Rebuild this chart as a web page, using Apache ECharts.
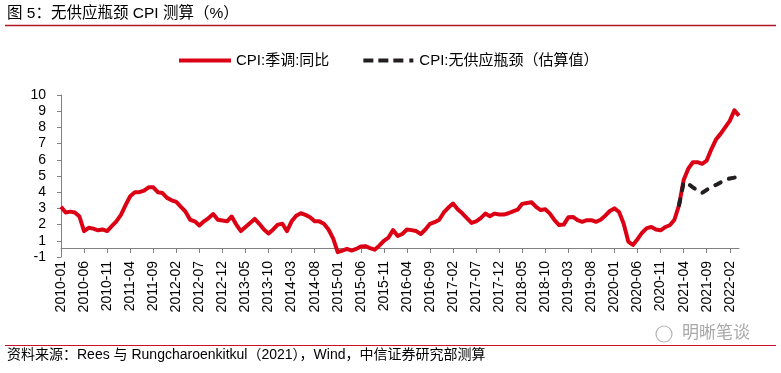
<!DOCTYPE html>
<html>
<head>
<meta charset="utf-8">
<script src="https://cdn.jsdelivr.net/npm/echarts@6/dist/echarts.min.js"></script>
<style>
html,body{margin:0;padding:0;background:#fff;}
#chart{width:781px;height:373px;}
</style>
</head>
<body>
<div id="chart"></div>
<script>
// ---- data ----
const startYear = 2010, startMonth = 1, monthCount = 148; // 2010-01 .. 2022-04
const months = [];
for (let k = 0; k < monthCount; k++) {
  const y = startYear + Math.floor((startMonth - 1 + k) / 12);
  const m = (startMonth - 1 + k) % 12 + 1;
  months.push(y + '-' + (m < 10 ? '0' + m : m));
}

const seriesNames = ['CPI:季调:同比', 'CPI:无供应瓶颈（估算值）'];

// CPI seasonally adjusted y/y
const cpiSA = [
  3.1, 2.75, 2.8, 2.75, 2.5, 1.6, 1.8, 1.75, 1.65, 1.7, 1.6, 1.9,        // 2010
  2.2, 2.6, 3.2, 3.75, 4.0, 4.0, 4.1, 4.3, 4.3, 4.0, 3.95, 3.65,         // 2011
  3.5, 3.4, 3.1, 2.8, 2.3, 2.2, 1.95, 2.2, 2.4, 2.65, 2.3, 2.25,         // 2012
  2.2, 2.5, 2.0, 1.6, 1.85, 2.1, 2.35, 2.05, 1.7, 1.45, 1.7, 2.0,        // 2013
  2.05, 1.6, 2.2, 2.55, 2.7, 2.6, 2.45, 2.2, 2.2, 2.05, 1.7, 1.15,       // 2014
  0.3, 0.4, 0.5, 0.4, 0.5, 0.65, 0.67, 0.55, 0.45, 0.7, 1.0, 1.2,        // 2015
  1.66, 1.3, 1.42, 1.7, 1.66, 1.6, 1.42, 1.7, 2.05, 2.15, 2.3, 2.75,     // 2016
  3.05, 3.3, 2.95, 2.7, 2.4, 2.1, 2.2, 2.4, 2.68, 2.52, 2.68, 2.62,      // 2017
  2.62, 2.7, 2.82, 2.92, 3.28, 3.33, 3.38, 3.1, 2.9, 2.95, 2.68, 2.27,   // 2018
  1.97, 2.0, 2.45, 2.47, 2.27, 2.17, 2.27, 2.27, 2.17, 2.3, 2.55, 2.84,  // 2019
  3.0, 2.78, 2.05, 0.95, 0.74, 1.1, 1.5, 1.78, 1.85, 1.7, 1.65, 1.85,    // 2020
  1.96, 2.3, 3.2, 4.75, 5.45, 5.85, 5.85, 5.75, 5.95, 6.65, 7.25, 7.6,   // 2021
  8.0, 8.4, 9.05, 8.72                                                   // 2022
];

// CPI without supply bottlenecks (estimate), from 2021-03
const noBottleneckStart = '2021-03';
const cpiNoBottleneck = [3.2, 4.6, 4.5, 4.3, 4.1, 3.95, 4.15, 4.35, 4.45, 4.6, 4.75, 4.85, 4.9, 4.95];

// y tick labels as printed on the chart (bottom tick reads -1)
const yTickLabels = ['-1', '1', '2', '3', '4', '5', '6', '7', '8', '9', '10'];

// ---- build ----
const startIdx = months.indexOf(noBottleneckStart);
const dashedData = months.map((m, k) => (k >= startIdx && k - startIdx < cpiNoBottleneck.length) ? cpiNoBottleneck[k - startIdx] : null);

const FONT = '"Liberation Sans", Arial, "Noto Sans CJK SC", sans-serif';
const RED = '#DC0014', BLACK = '#231F20';
const chart = echarts.init(document.getElementById('chart'), null, {renderer: 'canvas'});
chart.setOption({
  backgroundColor: '#fff',
  animation: false,
  textStyle: {fontFamily: FONT},
  grid: {left: 61, right: 42, top: 95, bottom: 116, containLabel: false},
  legend: {
    left: 174, top: 48,
    itemWidth: 52, itemHeight: 4, itemGap: 34,
    textStyle: {fontFamily: FONT, fontSize: 15, color: '#000'},
    data: [
      {name: seriesNames[0], icon: 'path://M0,0H52V4H0Z', itemStyle: {color: RED}},
      {name: seriesNames[1], icon: 'path://M0,0H10V4H0Z M15,0H25V4H15Z M30,0H40V4H30Z M46,0H50V4H46Z', itemStyle: {color: BLACK}}
    ]
  },
  xAxis: {
    type: 'category',
    data: months,
    boundaryGap: false,
    offset: -9,
    axisLine: {onZero: false, lineStyle: {color: '#808080', width: 1}},
    axisTick: {interval: 4, length: 5, lineStyle: {color: '#808080'}},
    axisLabel: {interval: 4, rotate: 90, margin: 13, fontSize: 14, color: '#000', fontFamily: FONT},
    splitLine: {show: false}
  },
  yAxis: {
    type: 'value',
    min: 0, max: 10, interval: 1,
    axisLine: {show: true, lineStyle: {color: '#808080', width: 1}},
    axisTick: {show: true, length: 4, lineStyle: {color: '#808080'}},
    axisLabel: {fontSize: 14, color: '#000', margin: 15, fontFamily: FONT,
      formatter: v => yTickLabels[Math.round(v)]},
    splitLine: {show: false}
  },
  series: [
    {
      name: seriesNames[0], type: 'line', data: cpiSA, symbol: 'none',
      lineStyle: {color: RED, width: 4, join: 'round'},
      itemStyle: {color: RED}, z: 2
    },
    {
      name: seriesNames[1], type: 'line', data: dashedData, symbol: 'none',
      lineStyle: {color: BLACK, width: 4, type: [6, 9], cap: 'round'},
      itemStyle: {color: BLACK}, z: 3
    }
  ],
  graphic: [
    {type: 'text', left: 7, top: 6, style: {text: '图 5：无供应瓶颈 CPI 测算（%）', font: '15.5px ' + FONT, fill: '#000'}},
    {type: 'line', shape: {x1: 5, y1: 25.5, x2: 776, y2: 25.5}, style: {stroke: '#B01923', lineWidth: 1.5}},
    {type: 'line', shape: {x1: 5, y1: 345.5, x2: 776, y2: 345.5}, style: {stroke: '#C8102E', lineWidth: 1.2}},
    {type: 'text', left: 7, top: 348, style: {text: '资料来源：Rees 与 Rungcharoenkitkul（2021），Wind，中信证券研究部测算', font: '14px ' + FONT, fill: '#000'}},
    {type: 'circle', shape: {cx: 664, cy: 334, r: 8}, style: {stroke: '#b5b5b5', fill: 'none', lineWidth: 1.2}},
    {type: 'text', left: 682, top: 325, style: {text: '明晰笔谈', font: '17px ' + FONT, fill: '#a8a8a8'}}
  ]
});
</script>
</body>
</html>
